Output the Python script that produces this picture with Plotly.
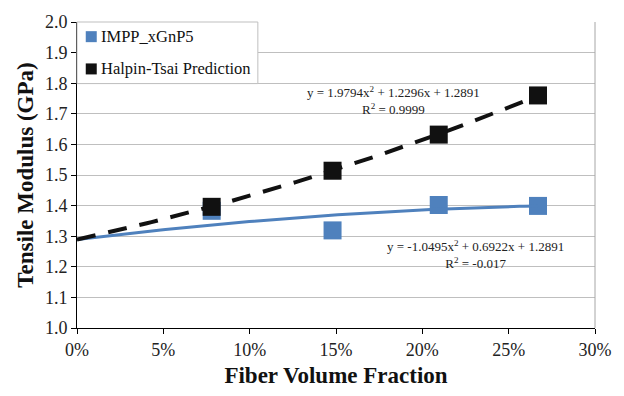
import numpy as np
import plotly.graph_objects as go

# Data
fiber_fraction = [0.078, 0.148, 0.2095, 0.267]
impp_modulus = [1.383, 1.319, 1.402, 1.399]
halpin_modulus = [1.396, 1.514, 1.632, 1.760]
series_names = ["IMPP_xGnP5", "Halpin-Tsai Prediction"]

# Trendline coefficients as printed on the chart (a, b, c for a*x^2 + b*x + c)
impp_fit = [-1.0495, 0.6922, 1.2891]
halpin_fit = [1.9794, 1.2296, 1.2891]
impp_eq = "y = -1.0495x<sup>2</sup> + 0.6922x + 1.2891<br>R<sup>2</sup> = -0.017"
halpin_eq = "y = 1.9794x<sup>2</sup> + 1.2296x + 1.2891<br>R<sup>2</sup> = 0.9999"

x_ticks = [0, 0.05, 0.10, 0.15, 0.20, 0.25, 0.30]
x_tick_labels = ["0%", "5%", "10%", "15%", "20%", "25%", "30%"]
y_ticks = [1.0, 1.1, 1.2, 1.3, 1.4, 1.5, 1.6, 1.7, 1.8, 1.9, 2.0]

BLUE = "#4F81BD"
BLACK = "#111111"
FONT = "Liberation Serif"

W, H = 624, 396
ML, MR, MT, MB = 77, 20, 21, 62
PW, PH = W - ML - MR, H - MT - MB


def px_x(p):
    return (p - ML) / PW


def px_y(p):
    return (H - MB - p) / PH


xs = np.linspace(0, max(fiber_fraction), 100)
impp_curve = np.polyval(impp_fit, xs)
halpin_curve = np.polyval(halpin_fit, xs)

fig = go.Figure()

fig.add_trace(go.Scatter(x=fiber_fraction, y=impp_modulus, mode="markers",
                         name=series_names[0],
                         marker=dict(symbol="square", size=18, color=BLUE),
                         showlegend=False))
fig.add_trace(go.Scatter(x=xs, y=impp_curve, mode="lines",
                         line=dict(color=BLUE, width=3), showlegend=False))
fig.add_trace(go.Scatter(x=xs, y=halpin_curve, mode="lines",
                         line=dict(color=BLACK, width=4, dash="19px,13px"),
                         showlegend=False))
fig.add_trace(go.Scatter(x=fiber_fraction, y=halpin_modulus, mode="markers",
                         name=series_names[1],
                         marker=dict(symbol="square", size=18, color=BLACK),
                         showlegend=False))

# Legend box (drawn to match the compact Excel-style legend)
fig.add_shape(type="rect", xref="paper", yref="paper",
              x0=0, x1=px_x(261), y0=px_y(84), y1=1,
              line=dict(color="#BFBFBF", width=1), fillcolor="white", layer="above")
for name, color, ypx in [(series_names[0], BLUE, 36), (series_names[1], BLACK, 69)]:
    fig.add_shape(type="rect", xref="paper", yref="paper",
                  xsizemode="pixel", ysizemode="pixel",
                  xanchor=px_x(91.5), yanchor=px_y(ypx),
                  x0=-5.5, x1=5.5, y0=-5.5, y1=5.5,
                  line=dict(width=0), fillcolor=color, layer="above")
    fig.add_annotation(x=px_x(99), y=px_y(ypx), xref="paper", yref="paper",
                       text=name, showarrow=False, xanchor="left", yanchor="middle",
                       font=dict(family=FONT, size=16.5, color="#111"))

fig.add_annotation(x=0.1833, y=1.744, xref="x", yref="y", text=halpin_eq,
                   showarrow=False, font=dict(family=FONT, size=13, color="#222"),
                   align="center")
fig.add_annotation(x=0.2305, y=1.241, xref="x", yref="y", text=impp_eq,
                   showarrow=False, font=dict(family=FONT, size=13, color="#222"),
                   align="center")

fig.add_shape(type="line", xref="paper", yref="paper", x0=1, x1=1, y0=0, y1=1,
              line=dict(color="#A6A6A6", width=1))

fig.update_layout(
    width=W, height=H,
    margin=dict(l=ML, r=MR, t=MT, b=MB),
    paper_bgcolor="white", plot_bgcolor="white",
    font=dict(family=FONT, size=18, color="#111"),
    showlegend=False,
    xaxis=dict(range=[0, 0.30], tickvals=x_ticks, ticktext=x_tick_labels,
               showgrid=False, zeroline=False, showline=True, linecolor="black",
               linewidth=1, ticks="outside", ticklen=5, tickcolor="black",
               tickfont=dict(family=FONT, size=18, color="#222"),
               title=dict(text="<b>Fiber Volume Fraction</b>", standoff=8,
                          font=dict(family=FONT, size=23, color="#111"))),
    yaxis=dict(range=[1.0, 2.0], tickvals=y_ticks, tickformat=".1f",
               showgrid=True, gridcolor="#BFBFBF", gridwidth=1, zeroline=False,
               showline=True, linecolor="black", linewidth=1,
               ticks="outside", ticklen=5, tickcolor="black",
               tickfont=dict(family=FONT, size=18, color="#222"),
               title=dict(text="<b>Tensile Modulus (GPa)</b>", standoff=4,
                          font=dict(family=FONT, size=23, color="#111"))),
)

fig.write_html("out.html")
